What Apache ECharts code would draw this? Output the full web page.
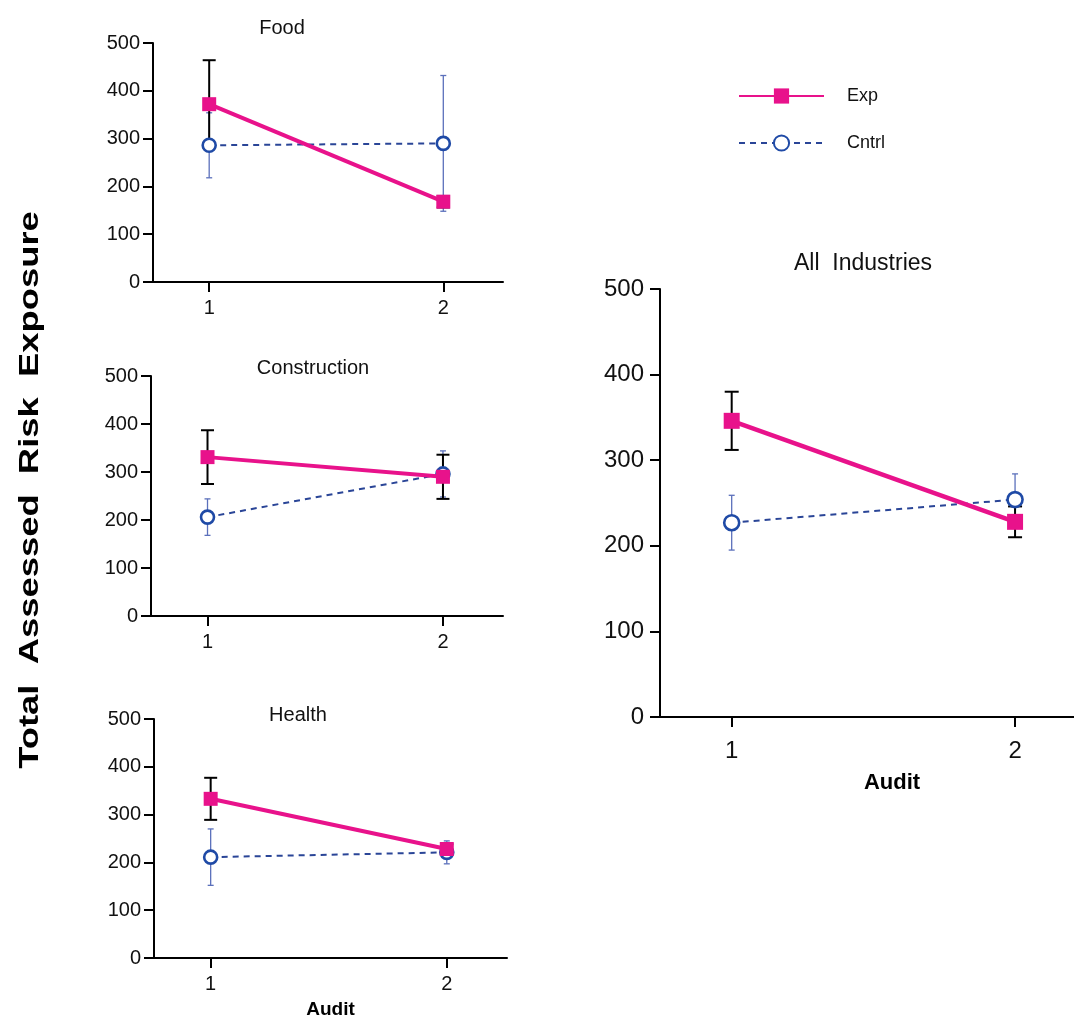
<!DOCTYPE html>
<html>
<head>
<meta charset="utf-8">
<title>Total Assessed Risk Exposure by Audit</title>
<script src="https://cdn.jsdelivr.net/npm/echarts@6/dist/echarts.min.js"></script>
<style>
  html, body { margin: 0; padding: 0; background: #ffffff; }
  #chart { width: 1074px; height: 1020px; }
</style>
</head>
<body>
<div id="chart"></div>
<script>
// Audit rounds on the x axis
const audits = [1, 2];
const yTicks = [0, 100, 200, 300, 400, 500];

// Panel titles
const panelTitles = ['Food', 'Construction', 'Health', 'All  Industries'];

// Means and error half-widths per panel (Exp = experimental group, Cntrl = control group)
const foodExp = [372, 168];
const foodExpErr = [92, 12];
const foodCntrl = [286, 290];
const foodCntrlErr = [68, 142];

const constructionExp = [331, 290];
const constructionExpErr = [56, 46];
const constructionCntrl = [206, 296];
const constructionCntrlErr = [38, 48];

const healthExp = [333, 228];
const healthExpErr = [44, 10];
const healthCntrl = [211, 221];
const healthCntrlErr = [59, 24];

const allExp = [346, 228];
const allExpErr = [34, 18];
const allCntrl = [227, 254];
const allCntrlErr = [32, 30];

const FONT = 'Liberation Sans, Arial, Helvetica, sans-serif';
const MAGENTA = '#e8128b';
const BLUE = '#1f4aa6';
const BLUE_LINE = '#2a4597';
const BLUE_ERR = '#5b70bb';

// Layout of each panel: grid box in pixels and style scale
const panels = [
  { title: panelTitles[0], exp: foodExp, expErr: foodExpErr, ctl: foodCntrl, ctlErr: foodCntrlErr,
    grid: { left: 153, top: 43, width: 350, height: 239 }, xMin: 0.76, xMax: 2.255,
    titlePos: [282, 18], big: false, audit: null },
  { title: panelTitles[1], exp: constructionExp, expErr: constructionExpErr, ctl: constructionCntrl, ctlErr: constructionCntrlErr,
    grid: { left: 151, top: 376, width: 352, height: 240 }, xMin: 0.76, xMax: 2.255,
    titlePos: [313, 358], big: false, audit: null },
  { title: panelTitles[2], exp: healthExp, expErr: healthExpErr, ctl: healthCntrl, ctlErr: healthCntrlErr,
    grid: { left: 154, top: 719, width: 353, height: 242 }, xMin: 0.76, xMax: 2.255,
    titlePos: [298, 705], big: false, audit: { gap: 42, shift: 0 } },
  { title: panelTitles[3], exp: allExp, expErr: allExpErr, ctl: allCntrl, ctlErr: allCntrlErr,
    grid: { left: 660, top: 289, width: 414, height: 428 }, xMin: 0.747, xMax: 2.208,
    titlePos: [863, 252], big: true, audit: { gap: 55, shift: 50 } }
];

function pairs(values, errs) {
  return audits.map((a, i) => errs ? [a, values[i], errs[i]] : [a, values[i]]);
}

function errorRenderer(color, width, capHalf) {
  return function (params, api) {
    const x = api.value(0), y = api.value(1), e = api.value(2);
    const top = api.coord([x, y + e]);
    const bot = api.coord([x, y - e]);
    const style = { stroke: color, lineWidth: width, fill: null };
    return {
      type: 'group',
      children: [
        { type: 'line', shape: { x1: top[0], y1: top[1], x2: bot[0], y2: bot[1] }, style },
        { type: 'line', shape: { x1: top[0] - capHalf, y1: top[1], x2: top[0] + capHalf, y2: top[1] }, style },
        { type: 'line', shape: { x1: bot[0] - capHalf, y1: bot[1], x2: bot[0] + capHalf, y2: bot[1] }, style }
      ]
    };
  };
}

const grids = [], xAxes = [], yAxes = [], series = [], titles = [];

panels.forEach((p, i) => {
  const big = p.big;
  grids.push(Object.assign({ containLabel: false }, p.grid));
  titles.push({
    text: p.title, left: p.titlePos[0], top: p.titlePos[1], textAlign: 'center',
    padding: 0,
    textStyle: { fontFamily: FONT, fontWeight: 'normal', fontSize: big ? 23 : 20, color: '#111' }
  });
  const axisLine = { show: true, onZero: false, lineStyle: { color: '#000', width: 2 } };
  xAxes.push({
    type: 'value', gridIndex: i, min: p.xMin, max: p.xMax,
    axisLine,
    axisTick: { show: true, customValues: audits, length: 10, lineStyle: { color: '#000', width: 2 } },
    axisLabel: { show: true, customValues: audits, margin: big ? 22 : 16, fontFamily: FONT, fontSize: big ? 24 : 20, color: '#111' },
    splitLine: { show: false },
    name: p.audit ? 'Audit' : '',
    nameLocation: 'middle',
    nameGap: p.audit ? p.audit.gap : 0,
    nameTextStyle: { fontFamily: FONT, fontWeight: 'bold', fontSize: big ? 22 : 19, color: '#000',
      padding: p.audit ? [0, 0, 0, p.audit.shift] : 0 }
  });
  yAxes.push({
    type: 'value', gridIndex: i, min: 0, max: 500, interval: 100,
    axisLine,
    axisTick: { show: true, length: 10, lineStyle: { color: '#000', width: 2 } },
    axisLabel: { margin: big ? 16 : 13, fontFamily: FONT, fontSize: big ? 24 : 20, color: '#111',
      customValues: yTicks },
    splitLine: { show: false }
  });

  const capExp = big ? 7 : 6.5;
  const capCtl = 3;

  series.push({
    type: 'custom', name: 'Cntrl SE', xAxisIndex: i, yAxisIndex: i,
    renderItem: errorRenderer(BLUE_ERR, 1.3, capCtl),
    encode: { x: 0, y: 1 }, data: pairs(p.ctl, p.ctlErr), z: 1, silent: true
  });
  series.push({
    type: 'custom', name: 'Exp SE', xAxisIndex: i, yAxisIndex: i,
    renderItem: errorRenderer('#000', 2, capExp),
    encode: { x: 0, y: 1 }, data: pairs(p.exp, p.expErr), z: 2, silent: true
  });
  series.push({
    type: 'line', name: 'Cntrl', xAxisIndex: i, yAxisIndex: i,
    data: pairs(p.ctl), z: 3,
    symbol: 'circle', symbolSize: big ? 15 : 13, showAllSymbol: true,
    lineStyle: { color: BLUE_LINE, width: 2, type: [6, 5] },
    itemStyle: { color: '#fff', borderColor: BLUE, borderWidth: 2.6 },
    emphasis: { disabled: true }, animation: false
  });
  series.push({
    type: 'line', name: 'Exp', xAxisIndex: i, yAxisIndex: i,
    data: pairs(p.exp), z: 4,
    symbol: 'rect', symbolSize: big ? 16 : 14, showAllSymbol: true,
    lineStyle: { color: MAGENTA, width: big ? 4.5 : 4 },
    itemStyle: { color: MAGENTA },
    emphasis: { disabled: true }, animation: false
  });
});

const chart = echarts.init(document.getElementById('chart'), null, { renderer: 'canvas' });
chart.setOption({
  backgroundColor: '#ffffff',
  animation: false,
  title: titles,
  grid: grids,
  xAxis: xAxes,
  yAxis: yAxes,
  legend: {
    data: ['Exp', 'Cntrl'],
    orient: 'vertical', left: 733, top: 82,
    itemWidth: 85, itemHeight: 19, itemGap: 29,
    selectedMode: false,
    lineStyle: { width: 2 },
    textStyle: { fontFamily: FONT, fontSize: 18, color: '#111', padding: [0, 0, 0, 18] }
  },
  graphic: [{
    type: 'text', x: 30, y: 490, rotation: Math.PI / 2, scaleX: 1.3,
    style: {
      text: 'Total  Assessed  Risk  Exposure',
      font: 'bold 28px ' + FONT, fill: '#000',
      textAlign: 'center', textVerticalAlign: 'middle'
    }
  }],
  series
});
</script>
</body>
</html>
